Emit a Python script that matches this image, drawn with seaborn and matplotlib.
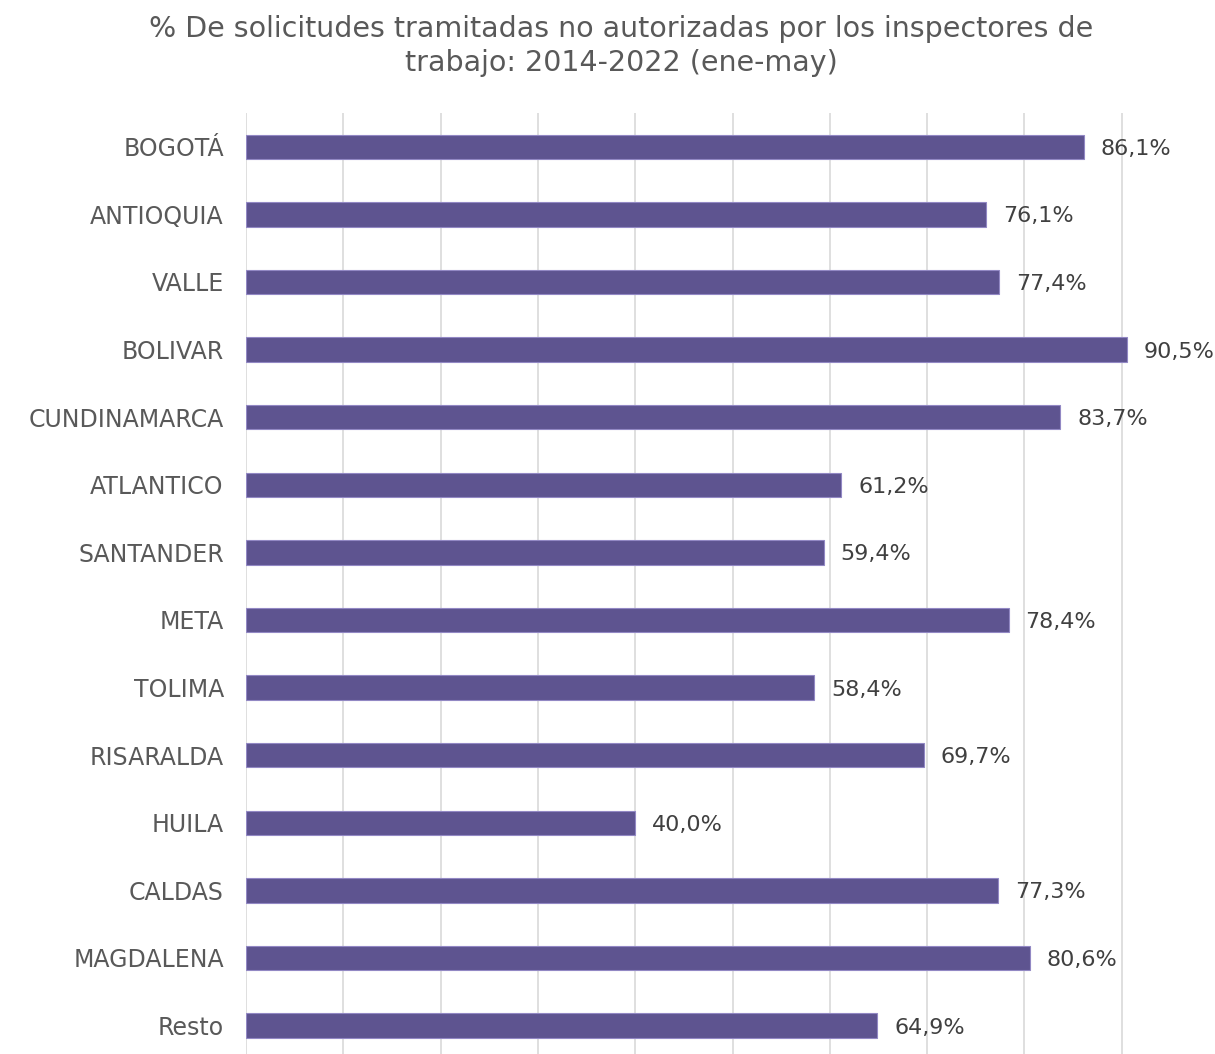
import matplotlib
matplotlib.use("Agg")
import matplotlib.pyplot as plt
import seaborn as sns
import pandas as pd

departamentos = ["BOGOTÁ", "ANTIOQUIA", "VALLE", "BOLIVAR", "CUNDINAMARCA", "ATLANTICO",
                 "SANTANDER", "META", "TOLIMA", "RISARALDA", "HUILA", "CALDAS",
                 "MAGDALENA", "Resto"]
pct_no_autorizadas = [86.1, 76.1, 77.4, 90.5, 83.7, 61.2, 59.4, 78.4, 58.4, 69.7,
                      40.0, 77.3, 80.6, 64.9]
grid_ticks = [0, 10, 20, 30, 40, 50, 60, 70, 80, 90]

df = pd.DataFrame({"departamento": departamentos, "pct": pct_no_autorizadas})

sns.set_theme(style="white")
plt.rcParams["font.family"] = ["DejaVu Sans"]

W, H = 1215, 1054
fig = plt.figure(figsize=(W / 100, H / 100), dpi=100)
# axes: left edge at x=246px, top at y=113px; rows every ~67.6px
row = 67.6
top_px = 113
bottom_px = top_px + 14 * row
ax = fig.add_axes([246 / W, 1 - bottom_px / H, 1 - 246 / W, (bottom_px - top_px) / H])

sns.barplot(data=df, x="pct", y="departamento", orient="h", ax=ax,
            color="#5E5490", width=0.36, edgecolor="#9288C4", linewidth=0.8,
            saturation=1)

ax.set_xlim(0, (W - 246) / 97.3 * 10)
ax.set_ylim(13.5, -0.5)
ax.set_xticks(grid_ticks)
ax.xaxis.grid(True, color="#D9D9D9", linewidth=1.2)
ax.set_axisbelow(True)
ax.tick_params(axis="x", length=0, labelbottom=False)
ax.tick_params(axis="y", length=0, pad=16, labelsize=17, labelcolor="#595959")
for s in ax.spines.values():
    s.set_visible(False)
ax.set_xlabel("")
ax.set_ylabel("")

labels = [f"{v:.1f}%".replace(".", ",") for v in pct_no_autorizadas]
texts = ax.bar_label(ax.containers[0], labels=labels, padding=12, fontsize=16, color="#404040")
for t in texts:
    t.set_va("center_baseline")

fig.text(621 / W, 1 - 46 / H,
         "% De solicitudes tramitadas no autorizadas por los inspectores de\ntrabajo: 2014-2022 (ene-may)",
         ha="center", va="center", fontsize=20.5, color="#595959", linespacing=1.25)

fig.savefig("out.png", dpi=100)
